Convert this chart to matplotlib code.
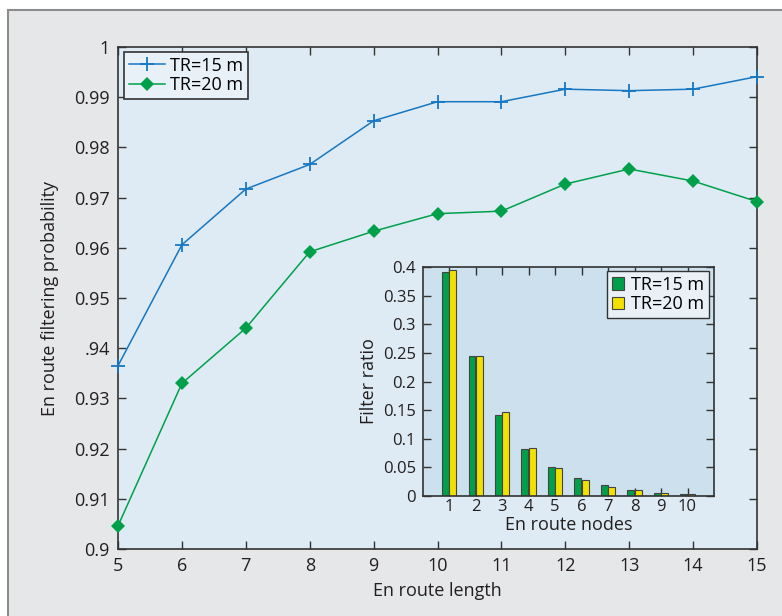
import matplotlib
matplotlib.use("Agg")
import matplotlib.pyplot as plt
import matplotlib.patches as mpatches
import numpy as np

plt.rcParams['font.family'] = ['Open Sans', 'DejaVu Sans']

# ---- data ----
route_length = [5, 6, 7, 8, 9, 10, 11, 12, 13, 14, 15]
prob_tr15 = [0.9365, 0.9606, 0.9717, 0.9766, 0.9853, 0.9891, 0.9891, 0.9916, 0.9913, 0.9916, 0.9941]
prob_tr20 = [0.9046, 0.9330, 0.9440, 0.9592, 0.9633, 0.9668, 0.9673, 0.9727, 0.9757, 0.9733, 0.9692]

route_nodes = [1, 2, 3, 4, 5, 6, 7, 8, 9, 10]
ratio_tr15 = [0.391, 0.245, 0.142, 0.082, 0.051, 0.031, 0.019, 0.011, 0.006, 0.004]
ratio_tr20 = [0.395, 0.244, 0.146, 0.084, 0.049, 0.028, 0.016, 0.011, 0.006, 0.003]

series_labels = ['TR=15 m', 'TR=20 m']
main_yticks = [0.90, 0.91, 0.92, 0.93, 0.94, 0.95, 0.96, 0.97, 0.98, 0.99, 1.00]
main_yticklabels = ['0.9', '0.91', '0.92', '0.93', '.94', '0.95', '0.96', '0.97', '0.98', '0.99', '1']
inset_yticks = [0, 0.05, 0.1, 0.15, 0.2, 0.25, 0.3, 0.35, 0.4]
inset_yticklabels = ['0', '0.05', '0.1', '0.15', '0.2', '0.25', '0.3', '0.35', '0.4']

# ---- style ----
W, H = 782, 616
BLUE = '#1677c2'
GREEN = '#00a04b'
YELLOW = '#f2e000'
PANEL = '#e6e7e8'
AX_BG = '#deebf4'
INSET_BG = '#cce0ee'
SPINE = '#333333'
TXT = '#231f20'

fig = plt.figure(figsize=(W / 100, H / 100), dpi=100, facecolor='white')

# outer panel
panel = mpatches.Rectangle((8 / W, -0.1), 1.2, (H - 10) / H + 0.1, transform=fig.transFigure,
                           facecolor=PANEL, edgecolor='#8c8c8c', linewidth=1.5, zorder=-10)
fig.patches.append(panel)


def style_axes(ax, size):
    ax.tick_params(direction='in', top=True, right=True, length=6, width=1.0,
                   colors=SPINE, labelcolor=TXT, labelsize=size, pad=6)
    for s in ax.spines.values():
        s.set_color(SPINE)
        s.set_linewidth(1.2)


# main axes
ax = fig.add_axes([118 / W, 1 - 549 / H, (757 - 118) / W, (549 - 47) / H])
ax.set_facecolor(AX_BG)
ax.plot(route_length, prob_tr15, color=BLUE, lw=1.1, marker='+', ms=10, mew=1.3,
        label=series_labels[0], clip_on=False, zorder=3)
ax.plot(route_length, prob_tr20, color=GREEN, lw=1.1, marker='D', ms=7, mew=0,
        label=series_labels[1], clip_on=False, zorder=3)
ax.set_xlim(5, 15)
ax.set_ylim(0.9, 1.0)
ax.set_xticks(route_length)
ax.set_yticks(main_yticks)
ax.set_yticklabels(main_yticklabels)
style_axes(ax, 13)
ax.set_xlabel('En route length', fontsize=13, color=TXT, labelpad=5)
ax.set_ylabel('En route filtering probability', fontsize=13, color=TXT, labelpad=11)
leg = ax.legend(loc='upper left', bbox_to_anchor=(0.01, 0.99), fontsize=13, frameon=True,
                fancybox=False, edgecolor=SPINE, facecolor='#e8f1f8', framealpha=1,
                handlelength=2.0, handletextpad=0.3, borderpad=0.25, labelspacing=0.1,
                borderaxespad=0.0)
leg.get_frame().set_linewidth(1.2)

# inset axes
ax2 = fig.add_axes([422.7 / W, 1 - 496 / H, (714 - 422.7) / W, (496 - 267) / H])
ax2.set_facecolor(INSET_BG)
x = np.array(route_nodes)
ax2.bar(x - 0.14, ratio_tr15, width=0.26, color=GREEN, edgecolor='#444444', linewidth=0.8,
        label=series_labels[0], zorder=2)
ax2.bar(x + 0.14, ratio_tr20, width=0.26, color=YELLOW, edgecolor='#444444', linewidth=0.8,
        label=series_labels[1], zorder=2)
ax2.set_xlim(0, 11)
ax2.set_ylim(0, 0.4)
ax2.set_xticks(route_nodes)
ax2.set_yticks(inset_yticks)
ax2.set_yticklabels(inset_yticklabels)
style_axes(ax2, 12)
ax2.tick_params(axis='x', pad=2)
ax2.tick_params(axis='y', pad=5)
ax2.set_xlabel('En route nodes', fontsize=13, color=TXT, labelpad=1)
ax2.set_ylabel('Filter ratio', fontsize=13, color=TXT, labelpad=3)
leg2 = ax2.legend(loc='upper right', bbox_to_anchor=(0.983, 0.982), fontsize=13, frameon=True,
                  fancybox=False, edgecolor=SPINE, facecolor='#e9f1f7', framealpha=1,
                  handlelength=0.7, handleheight=0.7, handletextpad=0.4, borderpad=0.25,
                  labelspacing=0.1, borderaxespad=0.0)
leg2.get_frame().set_linewidth(1.0)

fig.savefig('out.png', dpi=100, facecolor='white')
